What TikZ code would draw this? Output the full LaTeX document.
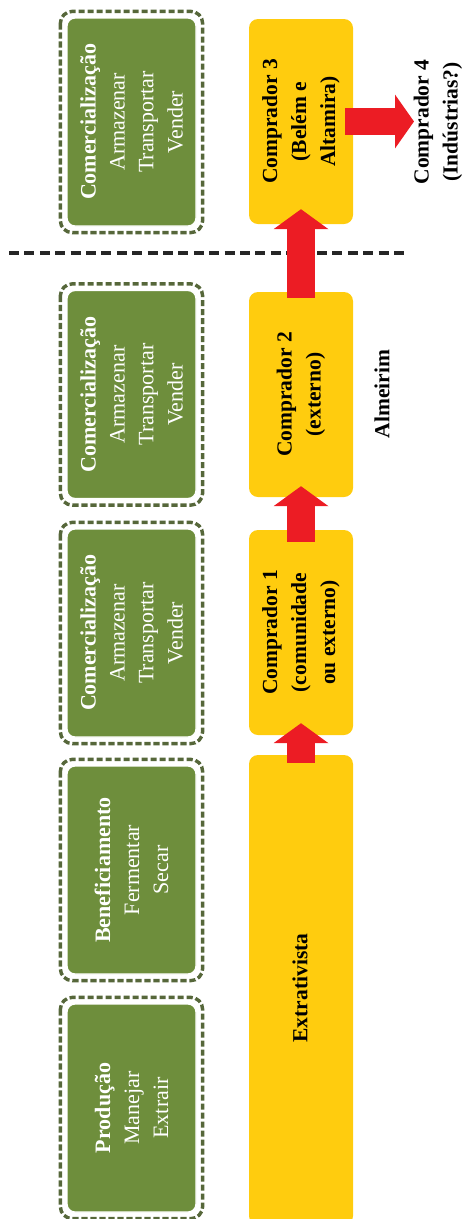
\documentclass[tikz,border=0pt]{standalone}
\usepackage{fontspec}
\setmainfont{Liberation Serif}
\usetikzlibrary{arrows.meta}
\definecolor{leaf}{HTML}{6E8E3C}
\definecolor{leafedge}{HTML}{56673A}
\definecolor{gold}{HTML}{FFCC0E}
\definecolor{flow}{HTML}{EC1C24}
\tikzset{
  stage/.style={rectangle, rounded corners=8pt, fill=leaf, draw=white, line width=1.3pt,
    minimum width=129pt, minimum height=208pt, inner sep=0pt},
  stageframe/.style={draw=leafedge, line width=3.4pt, dash pattern=on 6.2pt off 2.8pt, rounded corners=12pt},
  stagetext/.style={rotate=90, text=white, align=center, font=\fontsize{22}{29}\selectfont},
  buyer/.style={rectangle, rounded corners=9pt, fill=gold, minimum width=104pt, inner sep=0pt},
  buyertext/.style={rotate=90, align=center, font=\bfseries\fontsize{21.5}{29}\selectfont},
  flowarrow/.style={draw=flow, line width=28pt, -{Triangle[width=54pt,length=20pt]}},
  border/.style={draw=black!85, line width=4pt, dash pattern=on 10pt off 5.4pt}
}
\begin{document}
\begin{tikzpicture}[x=1pt,y=-1pt]
\useasboundingbox (0,0) rectangle (466,1219);

% activity stages (green)
\foreach \n/\cy in {sA/122, sB/394.5, sC/633, sD/870, sE/1108}{
  \node[stage] (\n) at (131.5,\cy) {};
  \draw[stageframe] ([shift={(-6pt,6pt)}]\n.north west) rectangle ([shift={(6pt,-6pt)}]\n.south east);
}
\node[stagetext] (tA) at (sA) {\textbf{Comercialização}\\Armazenar\\Transportar\\Vender};
\node[stagetext] (tB) at (sB) {\textbf{Comercialização}\\Armazenar\\Transportar\\Vender};
\node[stagetext] (tC) at (sC) {\textbf{Comercialização}\\Armazenar\\Transportar\\Vender};
\node[stagetext] (tD) at (sD) {\textbf{Beneficiamento}\\Fermentar\\Secar};
\node[stagetext] (tE) at (sE) {\textbf{Produção}\\Manejar\\Extrair};

% actors (yellow)
\node[buyer, minimum height=205pt] (c3) at (301,121.5) {};
\node[buyer, minimum height=205pt] (c2) at (301,394.5) {};
\node[buyer, minimum height=205pt] (c1) at (301,632.5) {};
\node[buyer, minimum height=470pt] (ex) at (301,990) {};
\node[buyertext] at (c3) {Comprador 3\\(Belém e\\Altamira)};
\node[buyertext] at (c2) {Comprador 2\\(externo)};
\node[buyertext] at (c1) {Comprador 1\\(comunidade\\ou externo)};
\node[buyertext] at (300,988) {Extrativista};

% boundary of Almeirim
\coordinate (bl) at (9,253);
\coordinate (br) at (406,253);
\draw[border] (bl) -- (br);
\node[buyertext] (alm) at (382,394) {Almeirim};

% final buyer
\node[buyertext] (c4) at (438,122) {Comprador 4\\(Indústrias?)};
\coordinate (c4in) at (414,121.5);

% flow of the product
\draw[flowarrow] ([yshift=-8pt]ex.north) -- ([yshift=12pt]c1.south);
\draw[flowarrow] ([yshift=-12pt]c1.north) -- ([yshift=11pt]c2.south);
\draw[flowarrow] ([yshift=-6pt]c2.north) -- ([yshift=15pt]c3.south);
\draw[flowarrow, line width=27pt, -{Triangle[width=53pt,length=19pt]}] ([xshift=-8pt]c3.east) -- (c4in);
\end{tikzpicture}
\end{document}
